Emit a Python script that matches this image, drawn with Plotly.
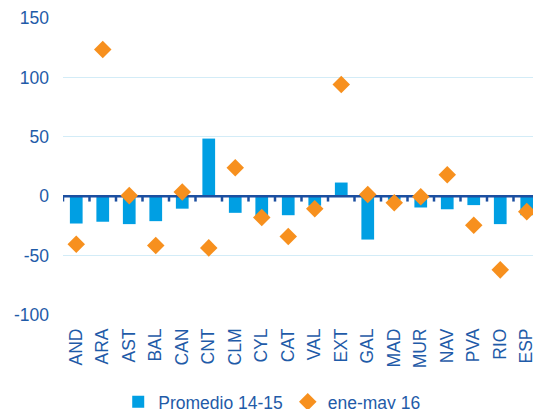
import plotly.graph_objects as go

categories = ["AND", "ARA", "AST", "BAL", "CAN", "CNT", "CLM", "CYL", "CAT",
              "VAL", "EXT", "GAL", "MAD", "MUR", "NAV", "PVA", "RIO", "ESP"]
promedio_14_15 = [-23, -21.5, -23.5, -21, -10.5, 48.5, -14, -19, -16,
                  -8, 11.5, -36.5, -3, -9.5, -11, -7.5, -23.5, -16]
ene_may_16 = [-40.5, 123.5, 0.5, -41.5, 3.5, -43.5, 24, -18, -34,
              -10.5, 94, 1.5, -5.5, -0.5, 18, -24.5, -62, -13]
y_ticks = [-100, -50, 0, 50, 100, 150]
y_tick_labels = ["-100", "-50", "0", "50", "100", "150"]

BLUE_TEXT = "#1F5BA8"
AXIS_BLUE = "#1C4FA0"
FONT = "Liberation Sans, Arial, sans-serif"
FS = 17.5

idx = list(range(len(categories)))
n = len(categories)

fig = go.Figure()

fig.add_trace(go.Bar(
    x=idx, y=promedio_14_15, name="Promedio 14-15",
    marker=dict(color="#009FE3", line=dict(width=0)),
    width=0.48,
))

# category axis line at zero with boundary tick marks
ax_x = [-0.5, n - 0.5, None]
ax_y = [0, 0, None]
for b in range(n + 1):
    ax_x += [b - 0.5, b - 0.5, None]
    ax_y += [0, -4.5, None]
fig.add_trace(go.Scatter(
    x=ax_x, y=ax_y, mode="lines", line=dict(color=AXIS_BLUE, width=2.5),
    showlegend=False, hoverinfo="skip", cliponaxis=False,
))

fig.add_trace(go.Scatter(
    x=idx, y=ene_may_16, name="ene-may 16", mode="markers",
    marker=dict(symbol="diamond", size=13.5, color="#F7901E", line=dict(width=0)),
    cliponaxis=False,
))

fig.update_layout(
    width=533, height=409,
    margin=dict(l=63, r=0, t=18, b=94, autoexpand=False),
    paper_bgcolor="white", plot_bgcolor="white",
    font=dict(family=FONT, size=FS, color=BLUE_TEXT),
    showlegend=True,
    legend=dict(orientation="h", x=0.1175, xanchor="left", y=-0.2927, yanchor="middle",
                font=dict(size=FS, color=BLUE_TEXT), itemwidth=30,
                tracegroupgap=0, traceorder="normal"),
    bargap=0.52,
)
fig.update_xaxes(
    type="linear", range=[-0.5, n - 0.5 - 7 / 26.5], automargin=False,
    tickmode="array", tickvals=idx, ticktext=categories,
    tickangle=-90, ticks="", showgrid=False, showline=False, zeroline=False,
    ticklabelstandoff=9, ticklabeloverflow="allow",
    tickfont=dict(size=FS, color=BLUE_TEXT),
)
fig.update_yaxes(
    range=[-100, 150], automargin=False,
    tickmode="array", tickvals=y_ticks, ticktext=y_tick_labels,
    showgrid=True, gridcolor="#D3ECF7", gridwidth=1.2,
    zeroline=False, showline=False, ticks="",
    ticklabelstandoff=13, tickfont=dict(size=FS, color=BLUE_TEXT),
)

fig.write_html(
    "out.html",
    config={"displayModeBar": False},
    post_script="document.body.style.margin='0';document.body.style.overflow='hidden';",
)
